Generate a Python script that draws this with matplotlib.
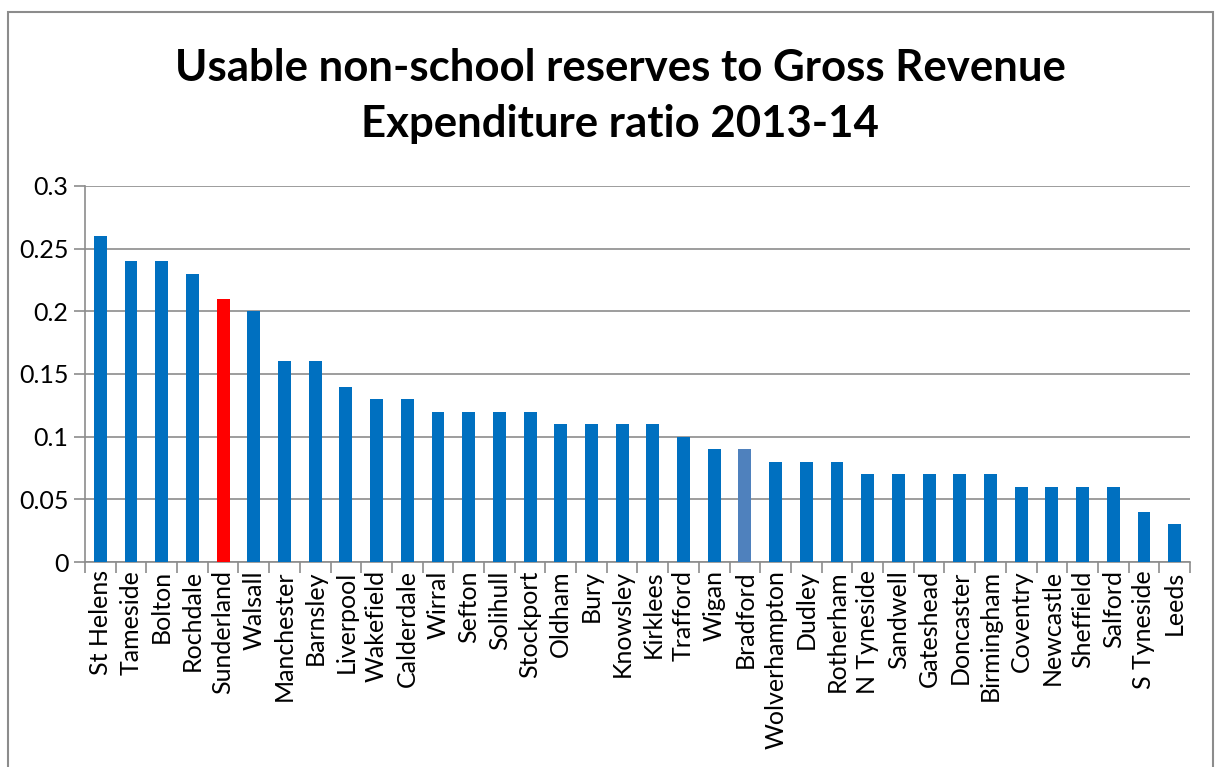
import numpy as np
import matplotlib.pyplot as plt
from matplotlib.patches import Rectangle

# councils and their usable non-school reserves / gross revenue expenditure
councils = ['St Helens', 'Tameside', 'Bolton', 'Rochdale', 'Sunderland', 'Walsall',
            'Manchester', 'Barnsley', 'Liverpool', 'Wakefield', 'Calderdale', 'Wirral',
            'Sefton', 'Solihull', 'Stockport', 'Oldham', 'Bury', 'Knowsley', 'Kirklees',
            'Trafford', 'Wigan', 'Bradford', 'Wolverhampton', 'Dudley', 'Rotherham',
            'N Tyneside', 'Sandwell', 'Gateshead', 'Doncaster', 'Birmingham', 'Coventry',
            'Newcastle', 'Sheffield', 'Salford', 'S Tyneside', 'Leeds']
ratio = [0.26, 0.24, 0.24, 0.23, 0.21, 0.20, 0.16, 0.16, 0.14, 0.13, 0.13, 0.12,
         0.12, 0.12, 0.12, 0.11, 0.11, 0.11, 0.11, 0.10, 0.09, 0.09, 0.08, 0.08,
         0.08, 0.07, 0.07, 0.07, 0.07, 0.07, 0.06, 0.06, 0.06, 0.06, 0.04, 0.03]

plt.rcParams['font.family'] = ['Lato', 'DejaVu Sans']

colors = ['#0070C0'] * len(councils)
colors[councils.index('Sunderland')] = '#FF0000'
colors[councils.index('Bradford')] = '#4F81BD'

fig = plt.figure(figsize=(12.2, 7.67), dpi=100)
ax = fig.add_axes([85 / 1220, 1 - 562 / 767, 1105 / 1220, 376 / 767])

x = np.arange(len(councils))
ax.bar(x, ratio, width=0.42, color=colors, zorder=3)

ax.set_xlim(-0.5, len(councils) - 0.5)
ax.set_ylim(0, 0.3)
ax.set_yticks(np.arange(0, 0.31, 0.05))
ax.set_yticklabels(['0', '0.05', '0.1', '0.15', '0.2', '0.25', '0.3'], fontsize=18)
ax.grid(axis='y', color='#8c8c8c', linewidth=1.2, zorder=0)

# category labels centred, tick marks on the boundaries
ax.set_xticks(x)
ax.set_xticklabels(councils, rotation=90, fontsize=18)
ax.tick_params(axis='x', length=0, pad=6)
ax.set_xticks(np.arange(-0.5, len(councils), 1), minor=True)
ax.tick_params(axis='x', which='minor', length=8, color='#8c8c8c', width=1.2)
ax.tick_params(axis='y', length=8, color='#8c8c8c', width=1.2, pad=4)

for side in ['top', 'right']:
    ax.spines[side].set_visible(False)
for side in ['left', 'bottom']:
    ax.spines[side].set_color('#8c8c8c')
    ax.spines[side].set_linewidth(1.2)

fig.text(620 / 1220, 1 - 96 / 767,
         'Usable non-school reserves to Gross Revenue\nExpenditure ratio 2013-14',
         ha='center', va='center', fontsize=31.5, fontweight='bold', linespacing=1.5)

# chart area border
fig.patches.append(Rectangle((8 / 1220, -0.05), 1205 / 1220, 1.05 - 12 / 767,
                             transform=fig.transFigure, fill=False,
                             edgecolor='#8c8c8c', linewidth=1.5))

fig.savefig('out.png', dpi=100)
